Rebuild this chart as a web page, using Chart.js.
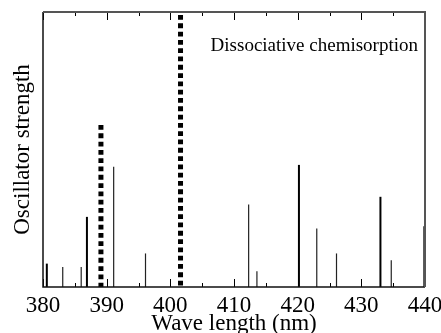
<!DOCTYPE html>
<html>
<head>
<meta charset="utf-8">
<script src="https://cdn.jsdelivr.net/npm/chart.js@4/dist/chart.umd.min.js"></script>
<style>
html,body{margin:0;padding:0;background:#fff;}
#wrap{width:441px;height:333px;position:relative;}
</style>
</head>
<body>
<div id="wrap"><canvas id="c" width="441" height="333"></canvas></div>
<script>
// Data
const wavelengths = [380.6, 383.1, 386.0, 386.9, 391.1, 396.1, 412.3, 413.6, 420.2, 423.0, 426.1, 433.0, 434.7, 439.9];
const strengths   = [0.085, 0.073, 0.073, 0.255, 0.437, 0.122, 0.300, 0.057, 0.444, 0.213, 0.122, 0.328, 0.097, 0.221];
const chemWavelengths = [389.1, 401.6];
const chemStrengths   = [0.589, 0.989];
const xTickValues = [380, 390, 400, 410, 420, 430, 440];
const annotationText = 'Dissociative chemisorption';
const xTitle = 'Wave length (nm)';
const yTitle = 'Oscillator strength';

// styles (separate from data)
const thickSticks = [380.6, 386.9, 420.2, 433.0, 439.9];
const serif = "'Liberation Serif', 'DejaVu Serif', serif";

const datasets = [];
wavelengths.forEach((w, i) => {
  const thick = thickSticks.includes(w);
  datasets.push({
    data: [{x: w, y: 0}, {x: w, y: strengths[i]}],
    borderColor: thick ? '#000' : '#222',
    borderWidth: thick ? 2 : 1.2,
    pointRadius: 0,
    fill: false,
    borderCapStyle: 'butt'
  });
});
chemWavelengths.forEach((w, i) => {
  datasets.push({
    data: [{x: w, y: chemStrengths[i]}, {x: w, y: 0}],
    borderColor: '#000',
    borderWidth: 5,
    borderDash: [4.8, 3.5],
    pointRadius: 0,
    fill: false,
    borderCapStyle: 'butt'
  });
});

const framePlugin = {
  id: 'frame',
  afterDraw(chart) {
    const {ctx, chartArea: a, scales: {x}} = chart;
    ctx.save();
    // ticks (inward, top & bottom)
    ctx.strokeStyle = '#000';
    ctx.lineWidth = 1;
    for (let v = 380; v <= 440; v += 5) {
      const px = Math.round(x.getPixelForValue(v)) + 0.5;
      const len = (v % 10 === 0) ? 8 : 4;
      ctx.beginPath();
      ctx.moveTo(px, a.bottom); ctx.lineTo(px, a.bottom - len);
      ctx.moveTo(px, a.top); ctx.lineTo(px, a.top + len);
      ctx.stroke();
    }
    // frame
    ctx.lineWidth = 1.5;
    ctx.strokeStyle = '#111';
    ctx.beginPath();
    ctx.moveTo(a.left, a.top); ctx.lineTo(a.left, a.bottom); ctx.lineTo(a.right, a.bottom);
    ctx.stroke();
    ctx.strokeStyle = '#555';
    ctx.lineWidth = 2;
    ctx.beginPath();
    ctx.moveTo(a.left, a.top); ctx.lineTo(a.right, a.top); ctx.lineTo(a.right, a.bottom);
    ctx.stroke();
    // annotation
    ctx.fillStyle = '#000';
    ctx.font = '19px ' + serif;
    ctx.textAlign = 'right';
    ctx.textBaseline = 'alphabetic';
    ctx.fillText(annotationText, a.right - 7, a.top + 39);
    ctx.restore();
  }
};

new Chart(document.getElementById('c'), {
  type: 'line',
  data: { datasets },
  options: {
    responsive: false,
    animation: false,
    layout: { padding: { top: 12, right: 16, left: 0, bottom: 0 } },
    plugins: { legend: { display: false }, tooltip: { enabled: false } },
    scales: {
      x: {
        type: 'linear', min: 380, max: 440,
        afterFit(s) { s.height = 46; s.paddingLeft = 0; s.paddingRight = 0; },
        afterBuildTicks(s) { s.ticks = xTickValues.map(v => ({value: v})); },
        grid: { display: false, drawTicks: false },
        border: { display: false },
        ticks: { color: '#000', padding: 5, maxRotation: 0, font: { family: serif, size: 23 } },
        title: { display: true, text: xTitle, color: '#000', padding: {top: 0, bottom: 0}, font: { family: serif, size: 23, lineHeight: 0.75 } }
      },
      y: {
        type: 'linear', min: 0, max: 1,
        afterFit(s) { s.width = 43; },
        grid: { display: false, drawTicks: false },
        border: { display: false },
        ticks: { display: false },
        title: { display: true, text: yTitle, color: '#000', padding: {top: 9, bottom: 0}, font: { family: serif, size: 23 } }
      }
    }
  },
  plugins: [framePlugin]
});
</script>
</body>
</html>
